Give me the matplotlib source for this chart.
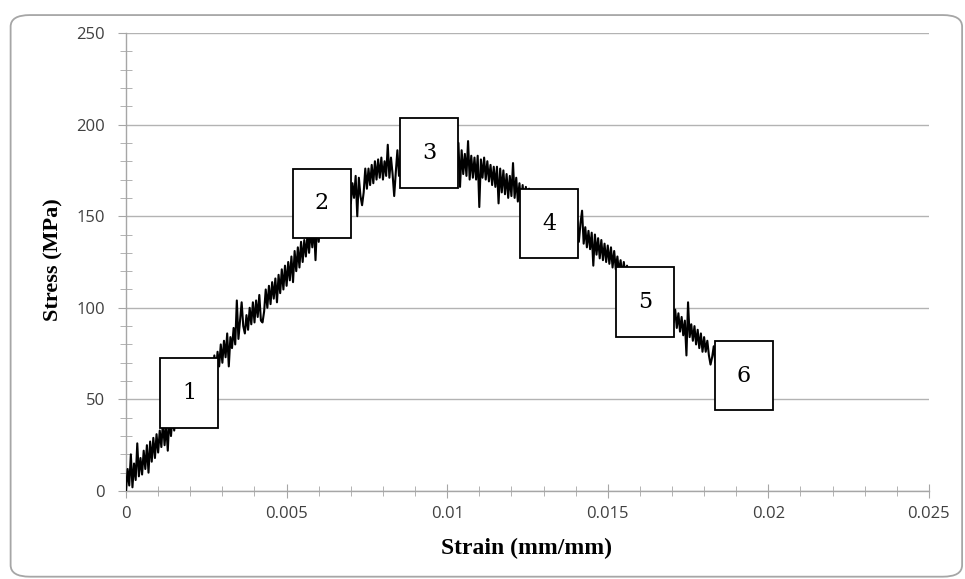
import numpy as np
import matplotlib
matplotlib.use('Agg')
import matplotlib.pyplot as plt
from matplotlib.patches import Rectangle, FancyBboxPatch

# stress, one value every 0.00005 strain
stress = [
    0, 12, 3, 20, 2, 15, 6, 26, 8, 18,
    9, 22, 12, 25, 10, 27, 16, 29, 18, 31,
    21, 33, 24, 38, 25, 36, 22, 40, 30, 42,
    33, 44, 36, 47, 37, 50, 40, 52, 43, 55,
    45, 56, 48, 58, 50, 62, 53, 64, 55, 66,
    57, 67, 60, 70, 62, 74, 65, 76, 68, 80,
    70, 82, 73, 86, 68, 84, 78, 89, 80, 104,
    83, 93, 103, 90, 86, 96, 88, 100, 91, 103,
    92, 104, 95, 107, 93, 92, 98, 110, 100, 112,
    102, 114, 105, 116, 103, 118, 108, 121, 110, 123,
    112, 125, 115, 128, 114, 131, 120, 133, 122, 136,
    125, 137, 128, 140, 130, 143, 133, 145, 126, 147,
    136, 148, 139, 151, 141, 153, 144, 155, 146, 157,
    147, 158, 150, 161, 152, 163, 155, 166, 157, 168,
    157, 168, 160, 172, 150, 171, 161, 156, 163, 176,
    165, 176, 167, 178, 168, 180, 170, 181, 171, 182,
    170, 180, 172, 189, 171, 182, 173, 161, 174, 186,
    172, 183, 174, 185, 173, 184, 175, 186, 176, 185,
    174, 186, 176, 187, 175, 188, 177, 187, 178, 189,
    176, 188, 177, 187, 176, 189, 177, 188, 175, 187,
    175, 186, 176, 187, 175, 186, 174, 190, 166, 186,
    173, 184, 172, 191, 170, 183, 171, 182, 170, 183,
    155, 181, 171, 182, 170, 180, 169, 178, 167, 177,
    166, 177, 157, 176, 163, 175, 162, 173, 160, 172,
    161, 179, 160, 171, 158, 168, 157, 167, 155, 166,
    156, 165, 154, 164, 152, 162, 151, 161, 150, 160,
    150, 159, 148, 158, 146, 156, 145, 154, 143, 153,
    144, 153, 142, 152, 140, 150, 139, 148, 137, 147,
    138, 147, 136, 146, 153, 135, 144, 133, 142, 132,
    141, 123, 140, 129, 138, 127, 137, 126, 135, 125,
    134, 124, 133, 122, 131, 121, 128, 119, 126, 117,
    125, 117, 123, 115, 121, 113, 119, 111, 117, 110,
    117, 108, 115, 106, 113, 104, 111, 102, 109, 100,
    109, 100, 107, 98, 105, 96, 103, 94, 101, 92,
    101, 92, 99, 89, 97, 87, 95, 85, 93, 74,
    103, 84, 91, 82, 90, 80, 88, 78, 86, 76,
    84, 76, 82, 74, 69, 73, 79, 70, 77, 68, 75,
]
strain_step = 0.00005
strain = np.arange(len(stress)) * strain_step

# zone labels and where their boxes sit (centre strain, centre stress)
zone_labels = ['1', '2', '3', '4', '5', '6']
zone_x = [0.00196, 0.0061, 0.00943, 0.01317, 0.01616, 0.01924]
zone_y = [53.5, 157, 184.5, 146, 103, 63]

fig = plt.figure(figsize=(9.65, 5.79), dpi=100)
ax = fig.add_axes([0.1306, 0.152, 0.832, 0.791])

# rounded chart border
fig.patches.append(FancyBboxPatch((0.011, 0.004), 0.986, 0.97,
                                  boxstyle='round,pad=0,rounding_size=0.02',
                                  transform=fig.transFigure, fill=False,
                                  edgecolor='#a6a6a6', linewidth=1.3))

ax.plot(strain, stress, color='black', linewidth=1.5, zorder=3)

bw, bh = 0.0018, 38
for lab, cx, cy in zip(zone_labels, zone_x, zone_y):
    ax.add_patch(Rectangle((cx - bw / 2, cy - bh / 2), bw, bh, facecolor='white',
                           edgecolor='black', linewidth=1.3, zorder=5))
    ax.text(cx, cy, lab, ha='center', va='center', fontsize=16,
            family='DejaVu Serif', zorder=6)

ax.set_xlim(0, 0.025)
ax.set_ylim(0, 250)
ax.set_xticks([0, 0.005, 0.01, 0.015, 0.02, 0.025])
ax.set_xticklabels(['0', '0.005', '0.01', '0.015', '0.02', '0.025'])
ax.set_xticks(np.arange(0, 0.0251, 0.001), minor=True)
ax.set_yticks([0, 50, 100, 150, 200, 250])
ax.set_yticks(np.arange(0, 251, 10), minor=True)

ax.grid(axis='y', which='major', color='#b3b3b3', linewidth=1)
ax.set_axisbelow(True)
for s in ['top', 'right']:
    ax.spines[s].set_visible(False)
for s in ['left', 'bottom']:
    ax.spines[s].set_color('#a6a6a6')
    ax.spines[s].set_linewidth(1)

ax.tick_params(axis='x', which='major', direction='inout', length=10, color='#a6a6a6', pad=6)
ax.tick_params(axis='x', which='minor', direction='inout', length=7, color='#a6a6a6')
ax.tick_params(axis='y', which='major', direction='out', length=6, color='#a6a6a6', pad=9)
ax.tick_params(axis='y', which='minor', direction='inout', length=8, color='#a6a6a6')
for t in ax.get_xticklabels() + ax.get_yticklabels():
    t.set_family('Open Sans')
    t.set_fontsize(12)
    t.set_color('#404040')

fig.text(0.546, 0.053, 'Strain (mm/mm)', ha='center', va='center',
         family='Liberation Serif', fontweight='bold', fontsize=17)
fig.text(0.055, 0.551, 'Stress (MPa)', ha='center', va='center', rotation=90,
         family='Liberation Serif', fontweight='bold', fontsize=16)

fig.savefig('out.png', dpi=100)
